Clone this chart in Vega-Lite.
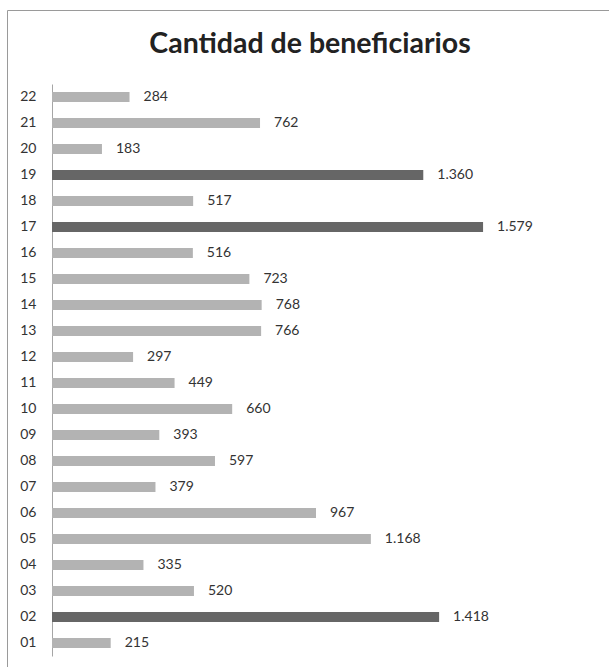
{
  "$schema": "https://vega.github.io/schema/vega-lite/v6.json",
  "autosize": "none",
  "padding": {"left": 7, "top": 10, "right": 0, "bottom": 0},
  "width": 602,
  "height": 657,
  "background": "white",
  "config": {
    "view": {"stroke": "#9a9a9a", "strokeWidth": 1, "strokeDash": [602, 1259, 657, 0]},
    "locale": {"number": {"decimal": ",", "thousands": ".", "grouping": [3], "currency": ["", " €"]}},
    "font": "Lato"
  },
  "title": {
    "text": "Cantidad de beneficiarios",
    "font": "Lato",
    "fontSize": 28.5,
    "fontWeight": "bold",
    "color": "#222222",
    "anchor": "middle",
    "baseline": "alphabetic",
    "offset": -71,
    "dx": 2
  },
  "data": {
    "values": [
      {"id": "01", "value": 215},
      {"id": "02", "value": 1418},
      {"id": "03", "value": 520},
      {"id": "04", "value": 335},
      {"id": "05", "value": 1168},
      {"id": "06", "value": 967},
      {"id": "07", "value": 379},
      {"id": "08", "value": 597},
      {"id": "09", "value": 393},
      {"id": "10", "value": 660},
      {"id": "11", "value": 449},
      {"id": "12", "value": 297},
      {"id": "13", "value": 766},
      {"id": "14", "value": 768},
      {"id": "15", "value": 723},
      {"id": "16", "value": 516},
      {"id": "17", "value": 1579},
      {"id": "18", "value": 517},
      {"id": "19", "value": 1360},
      {"id": "20", "value": 183},
      {"id": "21", "value": 762},
      {"id": "22", "value": 284}
    ]
  },
  "encoding": {
    "y": {
      "field": "id",
      "type": "nominal",
      "sort": "descending",
      "scale": {"range": [74, 646], "paddingInner": 0.615, "paddingOuter": 0.3075},
      "axis": {
        "title": null,
        "offset": -45,
        "labelPadding": 16,
        "ticks": false,
        "grid": false,
        "domainColor": "#a6a6a6",
        "labelFont": "Lato",
        "labelFontSize": 14,
        "labelColor": "#333333"
      }
    },
    "x": {
      "field": "value",
      "type": "quantitative",
      "scale": {"domain": [0, 2000], "range": [45, 591], "nice": false},
      "axis": null
    }
  },
  "layer": [
    {
      "mark": {"type": "bar"},
      "encoding": {
        "color": {"condition": {"test": "datum.value > 1300", "value": "#666666"}, "value": "#b3b3b3"}
      }
    },
    {
      "mark": {"type": "text", "align": "left", "baseline": "middle", "dx": 14, "font": "Lato", "fontSize": 14, "color": "#333333"},
      "encoding": {
        "text": {"field": "value", "type": "quantitative", "format": ",d"}
      }
    }
  ]
}
